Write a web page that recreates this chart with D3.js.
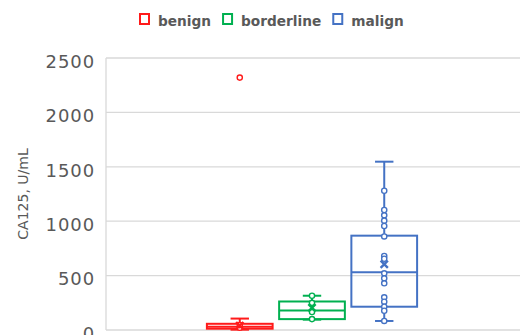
<!DOCTYPE html>
<html>
<head>
<meta charset="utf-8">
<script src="https://cdn.jsdelivr.net/npm/d3@7"></script>
<style>
  html, body { margin: 0; padding: 0; background: #fff; }
  svg { display: block; }
</style>
</head>
<body>
<svg id="chart" width="520" height="335"></svg>
<script>
// Series and summary statistics (CA125, U/mL)
const series = ["benign", "borderline", "malign"];
const colors = ["#ff1a1a", "#00b050", "#4472c4"];
const minVals = [3, 95, 83];
const q1Vals = [12, 100, 214];
const medianVals = [30, 180, 530];
const q3Vals = [57, 262, 867];
const maxVals = [105, 315, 1547];
const meanVals = [40, 205, 605];
const innerPoints = [
  [20, 45],
  [315, 250, 165, 100],
  [1280, 1103, 1054, 1005, 956, 860, 680, 655, 521, 475, 429, 300, 260, 214, 177, 83]
];
const outliers = [[2320], [], []];
const yTicks = [0, 500, 1000, 1500, 2000, 2500];
const yTitle = "CA125, U/mL";

const svg = d3.select("#chart");
const textColor = "#595959";
const gridColor = "#d9d9d9";
const plotLeft = 106, plotRight = 518;

const y = d3.scaleLinear().domain([0, 2500]).range([330, 58]);
const xGroup = d3.scaleBand().domain(["CA125"]).range([plotLeft, plotRight]).paddingOuter(0.48).paddingInner(0);
const xSeries = d3.scaleBand().domain(series).range([0, xGroup.bandwidth()]).paddingInner(0.09);

// Gridlines
svg.append("g").selectAll("line").data(yTicks).join("line")
  .attr("x1", plotLeft).attr("x2", plotRight + 4)
  .attr("y1", d => y(d)).attr("y2", d => y(d))
  .attr("stroke", gridColor).attr("stroke-width", 1.3);

// Left axis line
svg.append("line")
  .attr("x1", plotLeft).attr("x2", plotLeft)
  .attr("y1", y(2500)).attr("y2", y(0))
  .attr("stroke", gridColor).attr("stroke-width", 1.3);

// Y axis (labels only)
const yAxis = d3.axisLeft(y).tickValues(yTicks).tickFormat(d3.format("d")).tickSize(0).tickPadding(11);
const yg = svg.append("g").attr("transform", `translate(${plotLeft},0)`).call(yAxis);
yg.select(".domain").remove();
yg.selectAll("text")
  .attr("fill", textColor)
  .attr("font-family", "DejaVu Sans")
  .attr("font-size", 18)
  .attr("letter-spacing", 0.9)
  .attr("dy", "0.52em");

// Y title
svg.append("text")
  .attr("transform", `translate(28,194) rotate(-90)`)
  .attr("text-anchor", "middle")
  .attr("fill", textColor)
  .attr("font-family", "DejaVu Sans")
  .attr("font-size", 14)
  .text(yTitle);

// Box plots
const g0 = xGroup("CA125");
series.forEach((s, i) => {
  const col = colors[i];
  const x0 = g0 + xSeries(s);
  const w = xSeries.bandwidth();
  const cx = x0 + w / 2;
  const capW = w * 0.28;
  const g = svg.append("g").attr("fill", "none").attr("stroke", col).attr("stroke-width", 2);

  // whiskers
  g.append("line").attr("x1", cx).attr("x2", cx).attr("y1", y(q3Vals[i])).attr("y2", y(maxVals[i]));
  g.append("line").attr("x1", cx).attr("x2", cx).attr("y1", y(q1Vals[i])).attr("y2", y(minVals[i]));
  g.append("line").attr("x1", cx - capW / 2).attr("x2", cx + capW / 2).attr("y1", y(maxVals[i])).attr("y2", y(maxVals[i]));
  g.append("line").attr("x1", cx - capW / 2).attr("x2", cx + capW / 2).attr("y1", y(minVals[i])).attr("y2", y(minVals[i]));

  // box
  g.append("rect")
    .attr("x", x0).attr("y", y(q3Vals[i]))
    .attr("width", w).attr("height", y(q1Vals[i]) - y(q3Vals[i]));
  g.append("line").attr("x1", x0).attr("x2", x0 + w).attr("y1", y(medianVals[i])).attr("y2", y(medianVals[i]));

  // inner points
  g.selectAll("circle.pt").data(innerPoints[i]).join("circle")
    .attr("class", "pt")
    .attr("cx", cx).attr("cy", d => y(d)).attr("r", 2.6)
    .attr("fill", "#fff").attr("stroke-width", 1.4);

  // outliers
  g.selectAll("circle.out").data(outliers[i]).join("circle")
    .attr("class", "out")
    .attr("cx", cx).attr("cy", d => y(d)).attr("r", 2.6)
    .attr("fill", "#fff").attr("stroke-width", 1.4);

  // mean marker
  g.append("path")
    .attr("d", d3.symbol().type(d3.symbolX).size(36)())
    .attr("transform", `translate(${cx},${y(meanVals[i])})`)
    .attr("stroke-width", 2.4);
});

// Legend
const legend = svg.append("g");
let lx = 139;
series.forEach((s, i) => {
  legend.append("rect")
    .attr("x", lx + 1).attr("y", 14)
    .attr("width", 9).attr("height", 10)
    .attr("fill", "#fff").attr("stroke", colors[i]).attr("stroke-width", 2);
  const t = legend.append("text")
    .attr("x", lx + 19).attr("y", 25.5)
    .attr("fill", textColor)
    .attr("font-family", "DejaVu Sans")
    .attr("font-weight", "bold")
    .attr("font-size", 13.7)
    .text(s);
  lx += 19 + t.node().getComputedTextLength() + 11;
});
</script>
</body>
</html>
